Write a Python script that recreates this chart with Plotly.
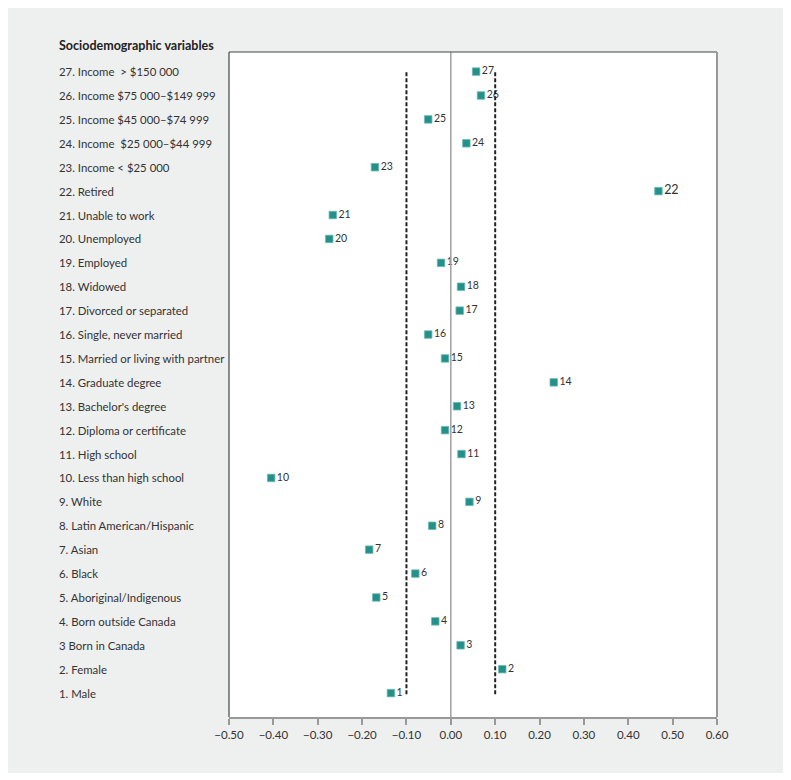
import plotly.graph_objects as go

labels = [
    "1. Male", "2. Female", "3 Born in Canada", "4. Born outside Canada",
    "5. Aboriginal/Indigenous", "6. Black", "7. Asian", "8. Latin American/Hispanic",
    "9. White", "10. Less than high school", "11. High school",
    "12. Diploma or certificate", "13. Bachelor's degree", "14. Graduate degree",
    "15. Married or living with partner", "16. Single, never married",
    "17. Divorced or separated", "18. Widowed", "19. Employed", "20. Unemployed",
    "21. Unable to work", "22. Retired", "23. Income < $25 000",
    "24. Income \u00a0$25 000\u2013$44 999", "25. Income $45 000\u2013$74 999",
    "26. Income $75 000\u2013$149 999", "27. Income \u00a0> $150 000",
]
numbers = list(range(1, 28))
values = [
    -0.135, 0.116, 0.022, -0.035, -0.168, -0.080, -0.184, -0.042, 0.042, -0.405,
    0.024, -0.013, 0.014, 0.232, -0.013, -0.051, 0.020, 0.023, -0.022, -0.274,
    -0.266, 0.468, -0.171, 0.035, -0.051, 0.068, 0.057,
]
thresholds = [-0.10, 0.10]
x_ticks = [-0.5, -0.4, -0.3, -0.2, -0.1, 0.0, 0.1, 0.2, 0.3, 0.4, 0.5, 0.6]
header = "Sociodemographic variables"

FONT = "Lato"
TEAL = "#24908a"
TXT = "#333333"

label_sizes = [12.5 if n == 22 else 10.5 for n in numbers]

fig = go.Figure()
fig.add_trace(go.Scatter(
    x=values, y=numbers, mode="markers+text",
    marker=dict(symbol="square", size=7.5, color=TEAL,
                line=dict(width=0.8, color="#6fb9b4")),
    text=[str(n) for n in numbers], textposition="middle right",
    textfont=dict(family=FONT, size=label_sizes, color=TXT),
    hoverinfo="skip", showlegend=False, cliponaxis=False,
))

shapes = []
# outer grey panel
shapes.append(dict(type="rect", xref="paper", yref="paper",
                   x0=-0.455, x1=1.137, y0=-0.0842, y1=1.0677,
                   fillcolor="#eeefef", line=dict(width=0), layer="below"))
# white plot area
shapes.append(dict(type="rect", xref="x domain", yref="y domain",
                   x0=0, x1=1, y0=0, y1=1,
                   fillcolor="white", line=dict(width=0), layer="below"))
# zero line
shapes.append(dict(type="line", xref="x", yref="y domain", x0=0, x1=0, y0=0, y1=1,
                   line=dict(color="#a0a0a0", width=1.5)))
# threshold dashed lines
for t in thresholds:
    shapes.append(dict(type="line", xref="x", yref="y", x0=t, x1=t,
                       y0=min(numbers) - 0.05, y1=max(numbers) + 0.05,
                       line=dict(color="#222222", width=2, dash="4px,2px")))
# frame
shapes.append(dict(type="line", xref="x domain", yref="y domain", x0=0, x1=1, y0=1, y1=1,
                   line=dict(color="#444444", width=1.2)))
shapes.append(dict(type="line", xref="x domain", yref="y domain", x0=0, x1=0, y0=0, y1=1,
                   line=dict(color="#444444", width=1.2)))
shapes.append(dict(type="line", xref="x domain", yref="y domain", x0=1, x1=1, y0=0, y1=1,
                   line=dict(color="#999999", width=2)))

annotations = []
for n, lab in zip(numbers, labels):
    annotations.append(dict(x=-0.3525, xref="paper", y=n, yref="y", text=lab,
                            showarrow=False, xanchor="left", yanchor="middle",
                            font=dict(family=FONT, size=11.4, color=TXT)))
annotations.append(dict(x=-0.3525, xref="paper", y=1.0105, yref="paper",
                        text="<b>" + header + "</b>", showarrow=False,
                        xanchor="left", yanchor="middle",
                        font=dict(family=FONT, size=12.5, color="#222222")))

fig.update_layout(
    width=783, height=772,
    margin=dict(l=221, r=74, t=44, b=63),
    paper_bgcolor="white", plot_bgcolor="rgba(0,0,0,0)",
    shapes=shapes, annotations=annotations,
    xaxis=dict(range=[-0.5, 0.6], tickvals=x_ticks, tickformat=".2f",
               showgrid=False, zeroline=False, showline=True,
               linecolor="#999999", linewidth=2, ticks="outside", ticklen=6,
               tickcolor="#999999", tickwidth=1.5,
               tickfont=dict(family=FONT, size=11.5, color=TXT)),
    yaxis=dict(range=[0, 27.82], showticklabels=False, showgrid=False,
               zeroline=False, showline=False, ticks=""),
    font=dict(family=FONT),
)

fig.write_html("out.html")
